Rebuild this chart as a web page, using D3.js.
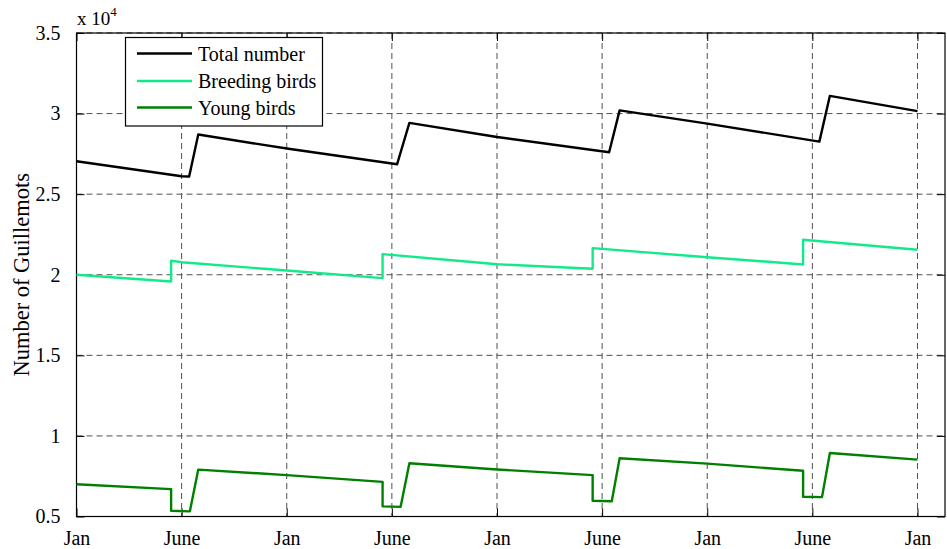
<!DOCTYPE html>
<html>
<head>
<meta charset="utf-8">
<script src="https://cdn.jsdelivr.net/npm/d3@7/dist/d3.min.js"></script>
<style>
  html, body { margin: 0; padding: 0; background: #fff; }
  svg { display: block; }
  text { font-family: "Liberation Serif", "DejaVu Serif", serif; fill: #000; }
</style>
</head>
<body>
<svg id="chart" width="947" height="549"></svg>
<script>
// ---- data (x in months from the first January, y in birds) ----
const tickMonths = [0, 6, 12, 18, 24, 30, 36, 42, 48];
const tickLabels = ["Jan", "June", "Jan", "June", "Jan", "June", "Jan", "June", "Jan"];
const yTickValues = [5000, 10000, 15000, 20000, 25000, 30000, 35000];
const yTickLabels = ["0.5", "1", "1.5", "2", "2.5", "3", "3.5"];

const totalMonths = [0, 6.0, 6.43, 6.95, 12, 18.3, 19.0, 24, 30.4, 31.0, 36, 42.4, 43.0, 48];
const totalValues = [27040, 26110, 26100, 28700, 27830, 26860, 29420, 28550, 27600, 30200, 29380, 28260, 31100, 30150];

const breedingMonths = [0, 5.4, 5.4, 6.0, 12, 17.47, 17.47, 24, 29.46, 29.46, 36, 41.47, 41.47, 48];
const breedingValues = [20000, 19580, 20870, 20780, 20260, 19790, 21280, 20650, 20370, 21650, 21090, 20640, 22170, 21550];

const youngMonths = [0, 5.4, 5.4, 6.47, 6.95, 12, 17.47, 17.47, 18.5, 19.0, 24, 29.46, 29.46, 30.55, 31.0, 36, 41.47, 41.47, 42.55, 43.0, 48];
const youngValues = [7000, 6700, 5360, 5320, 7910, 7570, 7150, 5630, 5600, 8300, 7920, 7570, 5980, 5950, 8610, 8280, 7840, 6230, 6200, 8940, 8530];

const seriesNames = ["Total number", "Breeding birds", "Young birds"];
const seriesColors = ["#000000", "#12ea8a", "#008000"];

// ---- layout ----
const svg = d3.select("#chart");
const L = 76.5, R = 945, T = 33, B = 516.5;
const x = d3.scaleLinear().domain([0, 49.57]).range([L, R]);
const y = d3.scaleLinear().domain([5000, 35000]).range([B, T]);

// grid
const grid = svg.append("g");
grid.selectAll("line.gx").data(tickMonths).enter().append("line")
  .attr("x1", d => x(d)).attr("x2", d => x(d)).attr("y1", T).attr("y2", B)
  .attr("stroke", "#505050").attr("stroke-width", 1).attr("stroke-dasharray", "6,4");
grid.selectAll("line.gy").data(yTickValues).enter().append("line")
  .attr("x1", L).attr("x2", R).attr("y1", d => y(d)).attr("y2", d => y(d))
  .attr("stroke", "#505050").attr("stroke-width", 1).attr("stroke-dasharray", "6,4");

// axes
const xAxis = d3.axisBottom(x).tickValues(tickMonths).tickSizeInner(-8).tickSizeOuter(0).tickPadding(14)
  .tickFormat((d, i) => tickLabels[i]);
const gx = svg.append("g").attr("transform", `translate(0,${B})`).call(xAxis);
const xTop = d3.axisTop(x).tickValues(tickMonths).tickSizeInner(-8).tickSizeOuter(0).tickFormat("");
svg.append("g").attr("transform", `translate(0,${T})`).call(xTop);
const yAxis = d3.axisLeft(y).tickValues(yTickValues).tickSizeInner(-8).tickSizeOuter(0).tickPadding(16)
  .tickFormat((d, i) => yTickLabels[i]);
const gy = svg.append("g").attr("transform", `translate(${L},0)`).call(yAxis);
const yRight = d3.axisRight(y).tickValues(yTickValues).tickSizeInner(-8).tickSizeOuter(0).tickFormat("");
svg.append("g").attr("transform", `translate(${R},0)`).call(yRight);

svg.selectAll(".domain").remove();
svg.selectAll(".tick line").attr("stroke", "#000");
svg.selectAll(".tick text").style("font-family", "Liberation Serif").style("font-size", "20px").attr("fill", "#000");
gx.selectAll(".tick text").attr("dy", "0.71em");

// box
svg.append("rect").attr("x", L).attr("y", T).attr("width", R - L).attr("height", B - T)
  .attr("fill", "none").attr("stroke", "#000").attr("stroke-width", 1.2);

// lines
const seriesData = [
  totalMonths.map((m, i) => [m, totalValues[i]]),
  breedingMonths.map((m, i) => [m, breedingValues[i]]),
  youngMonths.map((m, i) => [m, youngValues[i]])
];
const line = d3.line().x(d => x(d[0])).y(d => y(d[1]));
seriesData.forEach((s, i) => {
  svg.append("path").datum(s).attr("d", line)
    .attr("fill", "none").attr("stroke", seriesColors[i]).attr("stroke-width", 2.4)
    .attr("stroke-linejoin", "round");
});

// multiplier
const mult = svg.append("text").attr("x", 77).attr("y", 25).style("font-size", "19px");
mult.append("tspan").text("x 10");
mult.append("tspan").attr("dy", -9).style("font-size", "13px").text("4");

// y label
svg.append("text").attr("transform", `translate(29,${(T + B) / 2}) rotate(-90)`)
  .attr("text-anchor", "middle").style("font-size", "22.5px").text("Number of Guillemots");

// legend
const lg = svg.append("g");
lg.append("rect").attr("x", 125.5).attr("y", 37.5).attr("width", 197).attr("height", 88.5)
  .attr("fill", "#fff").attr("stroke", "#000").attr("stroke-width", 1.2);
const rowsY = [53.5, 81, 107.5];
seriesNames.forEach((n, i) => {
  lg.append("line").attr("x1", 137).attr("x2", 192).attr("y1", rowsY[i]).attr("y2", rowsY[i])
    .attr("stroke", seriesColors[i]).attr("stroke-width", 2.4);
  lg.append("text").attr("x", 198).attr("y", rowsY[i]).attr("dy", "0.35em")
    .style("font-size", "20px").text(n);
});
</script>
</body>
</html>
